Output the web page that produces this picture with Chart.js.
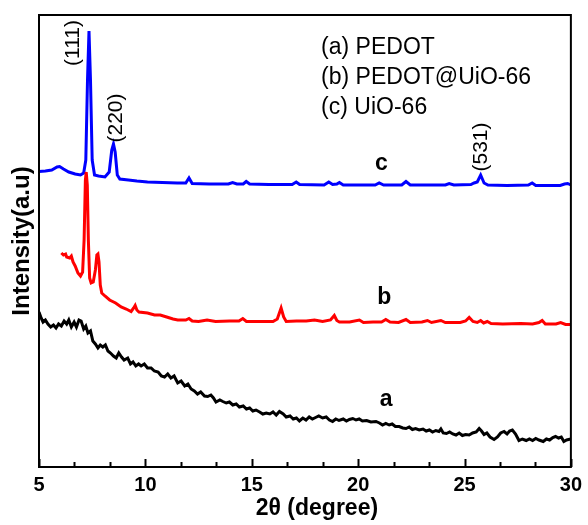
<!DOCTYPE html>
<html>
<head>
<meta charset="utf-8">
<script src="https://cdn.jsdelivr.net/npm/chart.js@4/dist/chart.umd.min.js"></script>
<style>
  html, body { margin: 0; padding: 0; background: #fff; }
  canvas { display: block; }
</style>
</head>
<body>
<canvas id="xrd" width="588" height="525"></canvas>
<script>
// 2theta (degree) and intensity (a.u., offset stacked)
const cTheta = [5.0, 5.3, 5.6, 5.85, 5.97, 6.15, 6.4, 6.7, 6.95, 7.1, 7.2, 7.28, 7.35, 7.42, 7.5, 7.61, 7.8, 8.1, 8.3, 8.42, 8.5, 8.58, 8.68, 8.8, 9.2, 9.6, 10.1, 10.8, 11.5, 11.9, 12.05, 12.2, 13.0, 13.9, 14.1, 14.3, 14.6, 14.74, 14.9, 15.8, 16.9, 17.09, 17.25, 18.4, 18.62, 18.8, 19.0, 19.12, 19.3, 20.0, 20.8, 20.99, 21.2, 22.05, 22.25, 22.45, 24.1, 24.28, 24.5, 25.3, 25.45, 25.6, 25.76, 25.92, 26.1, 27.0, 28.0, 28.18, 28.35, 29.5, 29.7, 29.85, 30.0];
const cInt = [295.5, 296, 297, 300, 300.5, 298, 295, 293, 292, 294, 307, 387, 436, 387, 307, 292, 291, 290, 295, 317, 323, 315, 292, 288, 287, 286, 285, 284.5, 284, 284, 289, 283.5, 283, 283, 284.5, 283, 283, 285.5, 283, 282.5, 282.5, 285, 282.5, 282, 285, 282.5, 283, 284.5, 282, 282, 282, 284, 282, 282, 285.5, 282, 282, 283.5, 282, 282.5, 284, 285, 292, 284, 282, 281.5, 282, 284, 281.5, 281.5, 283, 283.5, 282];

const bTheta = [6.05, 6.15, 6.25, 6.3, 6.44, 6.52, 6.6, 6.7, 6.83, 6.95, 7.05, 7.12, 7.18, 7.22, 7.27, 7.32, 7.38, 7.45, 7.55, 7.65, 7.72, 7.77, 7.82, 7.88, 7.95, 8.1, 8.32, 8.6, 8.86, 9.1, 9.33, 9.45, 9.52, 9.6, 9.7, 10.1, 10.43, 10.7, 11.0, 11.3, 11.52, 11.9, 12.05, 12.2, 12.5, 12.77, 12.9, 13.3, 13.96, 14.4, 14.58, 14.75, 15.3, 16.0, 16.2, 16.38, 16.5, 16.62, 17.1, 17.56, 17.95, 18.33, 18.7, 18.88, 19.0, 19.12, 19.6, 20.06, 20.25, 20.7, 21.1, 21.3, 21.5, 21.9, 22.25, 22.45, 23.0, 23.26, 23.45, 23.89, 24.1, 24.8, 25.05, 25.22, 25.4, 25.6, 25.76, 25.9, 26.07, 26.25, 26.8, 27.64, 28.2, 28.5, 28.65, 28.8, 29.3, 29.52, 29.75, 30.0];
const bInt = [214, 212, 213, 210, 209, 211, 205, 201, 194, 191, 195, 227, 287, 295, 282, 227, 189, 184, 185, 197, 212, 213, 205, 182, 174, 171, 167, 164, 160, 158, 155.5, 159, 161.5, 157, 155, 154, 152, 152, 150, 148, 147, 147, 148.5, 146, 145.5, 146.5, 147, 145.5, 146, 146, 148.5, 145.5, 145.5, 145.5, 148, 159, 150, 145.5, 146, 146, 147, 145.5, 147, 151.5, 146.5, 145, 145, 147, 144.5, 145, 145, 147.5, 145, 144.5, 147.5, 144.5, 145, 146.5, 144.5, 146.5, 144.5, 144.5, 146, 149.5, 145.5, 144.5, 146.5, 144, 145.5, 143.5, 143, 143.5, 143, 144.5, 146.5, 143, 143, 144.5, 142.5, 142.5];

const aTheta = [5.0, 5.1, 5.19, 5.3, 5.42, 5.55, 5.68, 5.8, 5.92, 6.05, 6.18, 6.3, 6.4, 6.52, 6.65, 6.76, 6.88, 6.98, 7.1, 7.2, 7.3, 7.42, 7.53, 7.65, 7.77, 7.88, 8.0, 8.12, 8.24, 8.36, 8.5, 8.63, 8.75, 8.88, 9.0, 9.17, 9.3, 9.42, 9.55, 9.68, 9.8, 9.95, 10.1, 10.27, 10.42, 10.6, 10.75, 10.9, 11.05, 11.2, 11.35, 11.52, 11.68, 11.85, 12.0, 12.15, 12.3, 12.45, 12.6, 12.78, 12.93, 13.08, 13.2, 13.32, 13.5, 13.64, 13.8, 13.95, 14.11, 14.27, 14.42, 14.6, 14.75, 14.9, 15.05, 15.2, 15.37, 15.52, 15.68, 15.85, 16.0, 16.15, 16.3, 16.48, 16.62, 16.8, 16.95, 17.1, 17.24, 17.4, 17.55, 17.7, 17.85, 18.0, 18.15, 18.33, 18.5, 18.65, 18.8, 18.95, 19.1, 19.3, 19.45, 19.59, 19.75, 19.9, 20.05, 20.2, 20.4, 20.6, 20.84, 21.0, 21.15, 21.3, 21.46, 21.6, 21.75, 21.93, 22.1, 22.25, 22.4, 22.55, 22.7, 22.87, 23.05, 23.2, 23.35, 23.5, 23.65, 23.8, 23.89, 24.0, 24.15, 24.3, 24.45, 24.6, 24.75, 24.9, 25.05, 25.22, 25.38, 25.55, 25.69, 25.8, 25.92, 26.05, 26.2, 26.39, 26.55, 26.7, 26.86, 27.0, 27.12, 27.25, 27.4, 27.56, 27.72, 27.9, 28.05, 28.2, 28.35, 28.5, 28.7, 28.85, 29.0, 29.15, 29.28, 29.42, 29.55, 29.67, 29.8, 30.0];
const aInt = [155, 149, 145, 147, 143, 140, 142, 139, 143, 141, 146, 143, 147, 140, 145, 140, 147, 146, 138, 141, 134, 136, 126, 123, 119, 122, 120, 122, 116, 114, 111, 109, 114, 110, 107, 109, 103, 105, 101, 103, 101, 103, 99, 99, 96, 95, 91, 90, 93, 89, 91, 84, 86, 81, 83, 78, 76, 73, 75, 71, 70.5, 72, 69, 65, 67, 65.5, 64, 65, 62, 63, 60, 61, 58, 59, 56, 57, 55, 53, 54, 53, 55, 52, 55.5, 53, 50, 51, 48, 49, 46, 49, 47, 50, 48, 49.5, 51, 49, 50, 47, 45.5, 48, 46.5, 48, 46, 47.5, 48.5, 47, 48, 46, 46.5, 45, 45.5, 44, 42, 43.5, 42, 43, 40.5, 40.5, 39, 38.5, 40, 37.5, 38.5, 37, 38, 36, 37, 35, 36.5, 35.5, 38, 34, 33.5, 35, 33, 32, 34, 31.5, 32.5, 32, 34, 35, 38.5, 36, 32.5, 34, 30, 27.5, 30, 34, 35.5, 33, 36, 37, 33, 26.5, 28, 26.5, 28, 26.5, 28.5, 27, 25.5, 28, 27, 29.5, 30.5, 29, 30, 25.5, 27, 28];

const xTicksMinor = [5, 6.667, 8.333, 10, 11.667, 13.333, 15, 16.667, 18.333, 20, 21.667, 23.333, 25, 26.667, 28.333, 30];

// peak indices, curve names and the sample key, placed in data units
const peakLabels = ['(111)', '(220)', '(531)'];
const peakTheta = [6.62, 8.61, 25.8];
const peakInt = [424, 349, 320];
const curveNames = ['c', 'b', 'a'];
const nameTheta = [21.09, 21.23, 21.32];
const nameInt = [303, 169, 67];
const keyLines = ['(a) PEDOT', '(b) PEDOT@UiO-66', '(c) UiO-66'];
const keyTheta = 18.26;
const keyInt = [419, 389, 359];
const xTitle = '2θ (degree)';

const FONT = '"Liberation Sans", Arial, sans-serif';
const toXY = (xs, ys) => xs.map((v, i) => ({ x: v, y: ys[i] }));

const extras = {
    id: 'extras',
    afterDraw(chart) {
        const { ctx, chartArea: a, scales: { x, y } } = chart;
        ctx.save();
        ctx.strokeStyle = '#000';
        ctx.lineWidth = 2;
        ctx.strokeRect(a.left, a.top, a.right - a.left, a.bottom - a.top);

        // inward ticks, longer on the labelled ones
        xTicksMinor.forEach((v, i) => {
            const px = Math.round(x.getPixelForValue(v)) + 0.5;
            const len = i % 3 === 0 ? 8 : 5;
            ctx.beginPath();
            ctx.moveTo(px, a.bottom);
            ctx.lineTo(px, a.bottom - len);
            ctx.stroke();
        });

        ctx.fillStyle = '#000';
        ctx.textAlign = 'center';
        ctx.textBaseline = 'middle';
        ctx.font = '21px ' + FONT;
        peakLabels.forEach((t, i) => {
            ctx.save();
            ctx.translate(x.getPixelForValue(peakTheta[i]), y.getPixelForValue(peakInt[i]));
            ctx.rotate(-Math.PI / 2);
            ctx.fillText(t, 0, 0);
            ctx.restore();
        });

        ctx.font = 'bold 23px ' + FONT;
        curveNames.forEach((t, i) => {
            ctx.fillText(t, x.getPixelForValue(nameTheta[i]), y.getPixelForValue(nameInt[i]));
        });

        // axis title sits a little right of the plot centre in the original
        ctx.font = 'bold 23px ' + FONT;
        ctx.fillText(xTitle, (a.left + a.right) / 2 + 12, chart.height - 16);

        ctx.textAlign = 'left';
        ctx.font = '23px ' + FONT;
        keyLines.forEach((t, i) => {
            ctx.fillText(t, x.getPixelForValue(keyTheta), y.getPixelForValue(keyInt[i]));
        });
        ctx.restore();
    }
};

const line = (data, color) => ({
    data,
    borderColor: color,
    backgroundColor: 'transparent',
    borderWidth: 3,
    pointRadius: 0,
    tension: 0
});

new Chart(document.getElementById('xrd').getContext('2d'), {
    type: 'line',
    data: {
        datasets: [
            line(toXY(aTheta, aInt), '#000000'),
            line(toXY(bTheta, bInt), '#ff0000'),
            line(toXY(cTheta, cInt), '#0000ff')
        ]
    },
    options: {
        responsive: false,
        animation: false,
        devicePixelRatio: 1,
        layout: { padding: { top: 15, right: 16, left: 0, bottom: 0 } },
        plugins: { legend: { display: false }, tooltip: { enabled: false } },
        scales: {
            x: {
                type: 'linear',
                min: 5,
                max: 30,
                grid: { display: false, drawTicks: false },
                border: { display: false },
                ticks: { stepSize: 5, padding: 6, color: '#000', font: { family: FONT, size: 20, weight: 'bold' } },
                afterFit: (s) => { s.height = 58; }
            },
            y: {
                min: 0,
                max: 452,
                grid: { display: false, drawTicks: false },
                border: { display: false },
                ticks: { display: false },
                title: { display: true, text: 'Intensity(a.u)', color: '#000', font: { family: FONT, size: 24, weight: 'bold' }, padding: { top: 8, bottom: 0 } },
                afterFit: (s) => { s.width = 39; }
            }
        }
    },
    plugins: [extras]
});
</script>
</body>
</html>
